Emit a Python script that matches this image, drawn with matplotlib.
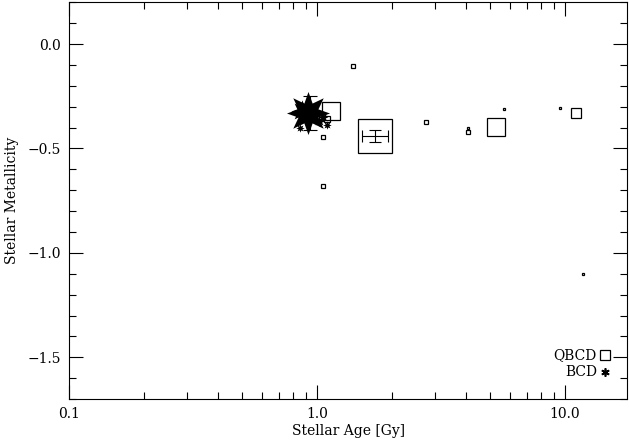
import matplotlib
matplotlib.use("Agg")
import matplotlib.pyplot as plt
from matplotlib.ticker import FixedLocator, NullFormatter, MultipleLocator

plt.rcParams['font.family'] = ['DejaVu Serif']

# QBCD galaxies: age [Gy], metallicity, marker size (pt)
qbcd_age = [1.14, 1.71, 1.40, 2.75, 4.05, 4.05, 5.25, 5.65, 9.5, 11.1, 11.8, 1.06, 1.06, 1.10]
qbcd_met = [-0.32, -0.44, -0.105, -0.374, -0.42, -0.40, -0.396, -0.31, -0.307, -0.33, -1.10, -0.446, -0.68, -0.36]
qbcd_size = [13, 24.5, 2.5, 3.5, 3.5, 2.0, 13, 2.0, 2.0, 7, 2.0, 3.5, 3.5, 4]

# BCD galaxies: age [Gy], metallicity, marker size (pt)
bcd_age = [0.92, 0.87, 0.85, 1.10, 1.06, 1.02]
bcd_met = [-0.33, -0.32, -0.40, -0.39, -0.35, -0.37]
bcd_size = [31, 16, 6, 6, 7, 8]

# Mean values with uncertainties
bcd_mean_age, bcd_mean_met, bcd_mean_err = 0.94, -0.33, 0.08
qbcd_mean_age, qbcd_mean_met = 1.71, -0.44
qbcd_age_lo, qbcd_age_hi, qbcd_met_err = 1.52, 1.93, 0.03

fig = plt.figure(figsize=(6.29, 4.44), dpi=100)
ax = fig.add_axes([0.110, 0.101, 0.887, 0.894])

for a, m, s in zip(qbcd_age, qbcd_met, qbcd_size):
    ax.plot(a, m, marker='s', ms=s, mfc='none', mec='black', mew=0.9, ls='none')

for a, m, s in zip(bcd_age, bcd_met, bcd_size):
    ax.plot(a, m, marker=(8, 1, 0), ms=s, color='black', mew=0, ls='none')

ax.errorbar([bcd_mean_age], [bcd_mean_met], yerr=[bcd_mean_err], fmt='none',
            ecolor='black', elinewidth=0.8, capsize=5, capthick=0.8)
ax.errorbar([qbcd_mean_age], [qbcd_mean_met],
            xerr=[[qbcd_mean_age - qbcd_age_lo], [qbcd_age_hi - qbcd_mean_age]],
            yerr=[qbcd_met_err], fmt='none', ecolor='black', elinewidth=0.8,
            capsize=4, capthick=0.8)

ax.set_xscale('log')
ax.set_xlim(0.1, 17.8)
ax.set_ylim(-1.7, 0.2)

ax.xaxis.set_major_locator(FixedLocator([0.1, 1.0, 10.0]))
ax.set_xticklabels(['0.1', '1.0', '10.0'])
ax.xaxis.set_minor_locator(FixedLocator([i * d for d in (0.1, 1.0, 10.0) for i in range(2, 10)]))
ax.xaxis.set_minor_formatter(NullFormatter())
ax.yaxis.set_major_locator(MultipleLocator(0.5))
ax.yaxis.set_minor_locator(MultipleLocator(0.1))
ax.set_yticks([0.0, -0.5, -1.0, -1.5])
ax.set_yticklabels(['0.0', '\u22120.5', '\u22121.0', '\u22121.5'])

ax.tick_params(which='both', direction='in', top=True, right=True, labelsize=10, width=0.8)
ax.tick_params(which='major', length=10, pad=6)
ax.tick_params(which='minor', length=5)
for sp in ax.spines.values():
    sp.set_linewidth(0.8)

ax.set_xlabel('Stellar Age [Gy]', fontsize=10, labelpad=2)
ax.set_ylabel('Stellar Metallicity', fontsize=10, labelpad=6)

# Legend drawn as text with symbols
ax.text(0.946, 0.111, 'QBCD', transform=ax.transAxes, ha='right', va='center', fontsize=10)
ax.plot([0.960], [0.111], transform=ax.transAxes, marker='s', ms=7, mfc='none',
        mec='black', mew=0.9, ls='none')
ax.text(0.946, 0.068, 'BCD', transform=ax.transAxes, ha='right', va='center', fontsize=10)
ax.plot([0.960], [0.068], transform=ax.transAxes, marker=(6, 2, 0), ms=6,
        color='black', mew=1.2, ls='none')

fig.savefig('out.png', dpi=100)
